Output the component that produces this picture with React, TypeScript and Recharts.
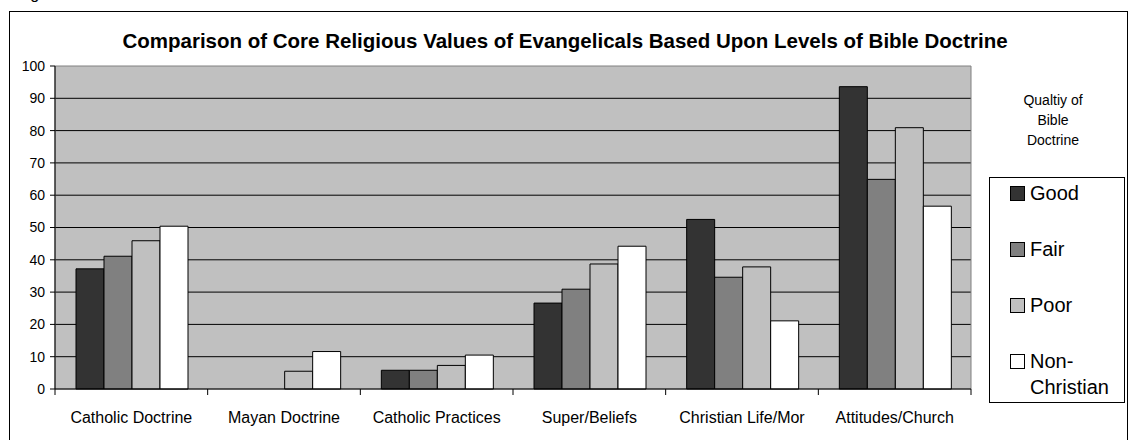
import { Bar, BarChart, CartesianGrid, Legend, ReferenceArea, XAxis, YAxis } from 'recharts'

const CATEGORIES = [
  'Catholic Doctrine',
  'Mayan Doctrine',
  'Catholic Practices',
  'Super/Beliefs',
  'Christian Life/Mor',
  'Attitudes/Church',
]
const GOOD = [37.2, 0, 5.8, 26.6, 52.5, 93.6]
const FAIR = [41.1, 0, 5.8, 30.9, 34.6, 64.9]
const POOR = [45.9, 5.5, 7.3, 38.7, 37.8, 80.9]
const NON_CHRISTIAN = [50.4, 11.6, 10.5, 44.2, 21.1, 56.6]
const Y_TICKS = [0, 10, 20, 30, 40, 50, 60, 70, 80, 90, 100]

const SERIES = [
  { key: 'good', name: 'Good', values: GOOD, color: '#333333' },
  { key: 'fair', name: 'Fair', values: FAIR, color: '#808080' },
  { key: 'poor', name: 'Poor', values: POOR, color: '#c0c0c0' },
  { key: 'non', name: 'Non-Christian', values: NON_CHRISTIAN, color: '#ffffff' },
]

const data = CATEGORIES.map((cat, i) => {
  const row: Record<string, string | number> = { cat }
  SERIES.forEach(s => (row[s.key] = s.values[i]))
  return row
})

const W = 1130
const H = 440
const MARGIN = { top: 66, right: 159, bottom: 21, left: 10 }
const X_AXIS_H = 30
const PLOT_BOTTOM = H - MARGIN.bottom - X_AXIS_H
const PLOT_W = W - MARGIN.left - 45 - MARGIN.right
const STEP = PLOT_W / CATEGORIES.length
const FONT = "Arial, 'Liberation Sans', sans-serif"

function CategoryTick(props: any) {
  const { x, payload, index, visibleTicksCount } = props
  const half = STEP / 2
  const isLast = index === (visibleTicksCount ?? CATEGORIES.length) - 1
  return (
    <g>
      <line x1={x - half} x2={x - half} y1={PLOT_BOTTOM} y2={PLOT_BOTTOM + 6} stroke="#000" />
      {isLast && <line x1={x + half} x2={x + half} y1={PLOT_BOTTOM} y2={PLOT_BOTTOM + 6} stroke="#000" />}
      <text x={x} y={PLOT_BOTTOM + 34} textAnchor="middle" fontSize={16} fill="#000" fontFamily={FONT}>
        {payload.value}
      </text>
    </g>
  )
}

function LegendBox(props: any) {
  const order = SERIES.map(s => s.name)
  const items = [...(props.payload ?? [])].sort(
    (a: any, b: any) => order.indexOf(a.value) - order.indexOf(b.value)
  )
  return (
    <div
      style={{
        width: 134,
        height: 224,
        border: '1px solid #000',
        background: '#fff',
        boxSizing: 'content-box',
        fontFamily: FONT,
        fontSize: 20,
        color: '#000',
      }}
    >
      {items.map((it: any, i: number) => (
        <div key={i} style={{ position: 'absolute', left: 21, top: 3 + i * 56, display: 'flex', alignItems: 'flex-start' }}>
          <span
            style={{
              display: 'inline-block',
              width: 13,
              height: 13,
              marginTop: 6,
              background: it.color,
              border: '1px solid #000',
              flex: 'none',
            }}
          />
          <span style={{ marginLeft: 5, lineHeight: '26px', width: 95, textAlign: 'left' }}>{it.value}</span>
        </div>
      ))}
    </div>
  )
}

export default function App() {
  return (
    <div style={{ position: 'absolute', left: 0, top: 0, width: W, height: H, overflow: 'hidden', background: '#fff', fontFamily: FONT }}>
      <div style={{ position: 'absolute', left: 17, top: -14, fontSize: 16, lineHeight: '16px' }}>Figure</div>
      <div style={{ position: 'absolute', left: 9, top: 11, width: 1119, height: 460, border: '1px solid #000', boxSizing: 'border-box' }} />
      <div
        style={{
          position: 'absolute',
          left: 0,
          top: 29,
          width: W,
          textAlign: 'center',
          fontSize: 20.5,
          fontWeight: 'bold',
          lineHeight: '24px',
        }}
      >
        Comparison of Core Religious Values of Evangelicals Based Upon Levels of Bible Doctrine
      </div>
      <div
        style={{
          position: 'absolute',
          left: 993,
          top: 90,
          width: 120,
          textAlign: 'center',
          fontSize: 14,
          lineHeight: '20px',
        }}
      >
        Qualtiy of
        <br />
        Bible
        <br />
        Doctrine
      </div>
      <div style={{ position: 'absolute', left: 0, top: 0 }}>
        <BarChart width={W} height={H} data={data} margin={MARGIN} barCategoryGap={21} barGap={0}>
          <CartesianGrid
            vertical={false}
            fill="#c0c0c0"
            stroke="#000"
            horizontalValues={Y_TICKS.slice(1, -1)}
          />
          <ReferenceArea y1={0} y2={100} fill="none" stroke="#808080" />
          <XAxis
            dataKey="cat"
            height={X_AXIS_H}
            axisLine={{ stroke: '#000' }}
            tickLine={false}
            tick={<CategoryTick />}
            interval={0}
          />
          <YAxis
            width={45}
            domain={[0, 100]}
            ticks={Y_TICKS}
            axisLine={{ stroke: '#000' }}
            tickLine={{ stroke: '#000' }}
            tickSize={5}
            tickMargin={5}
            tick={{ fill: '#000', fontSize: 14, fontFamily: FONT }}
          />
          <Legend
            layout="vertical"
            align="center"
            verticalAlign="middle"
            content={<LegendBox />}
            wrapperStyle={{ left: 989, top: 177, width: 136, height: 226 }}
          />
          {SERIES.map(s => (
            <Bar
              key={s.key}
              dataKey={s.key}
              name={s.name}
              fill={s.color}
              stroke="#000"
              strokeWidth={1}
              isAnimationActive={false}
            />
          ))}
        </BarChart>
      </div>
    </div>
  )
}
